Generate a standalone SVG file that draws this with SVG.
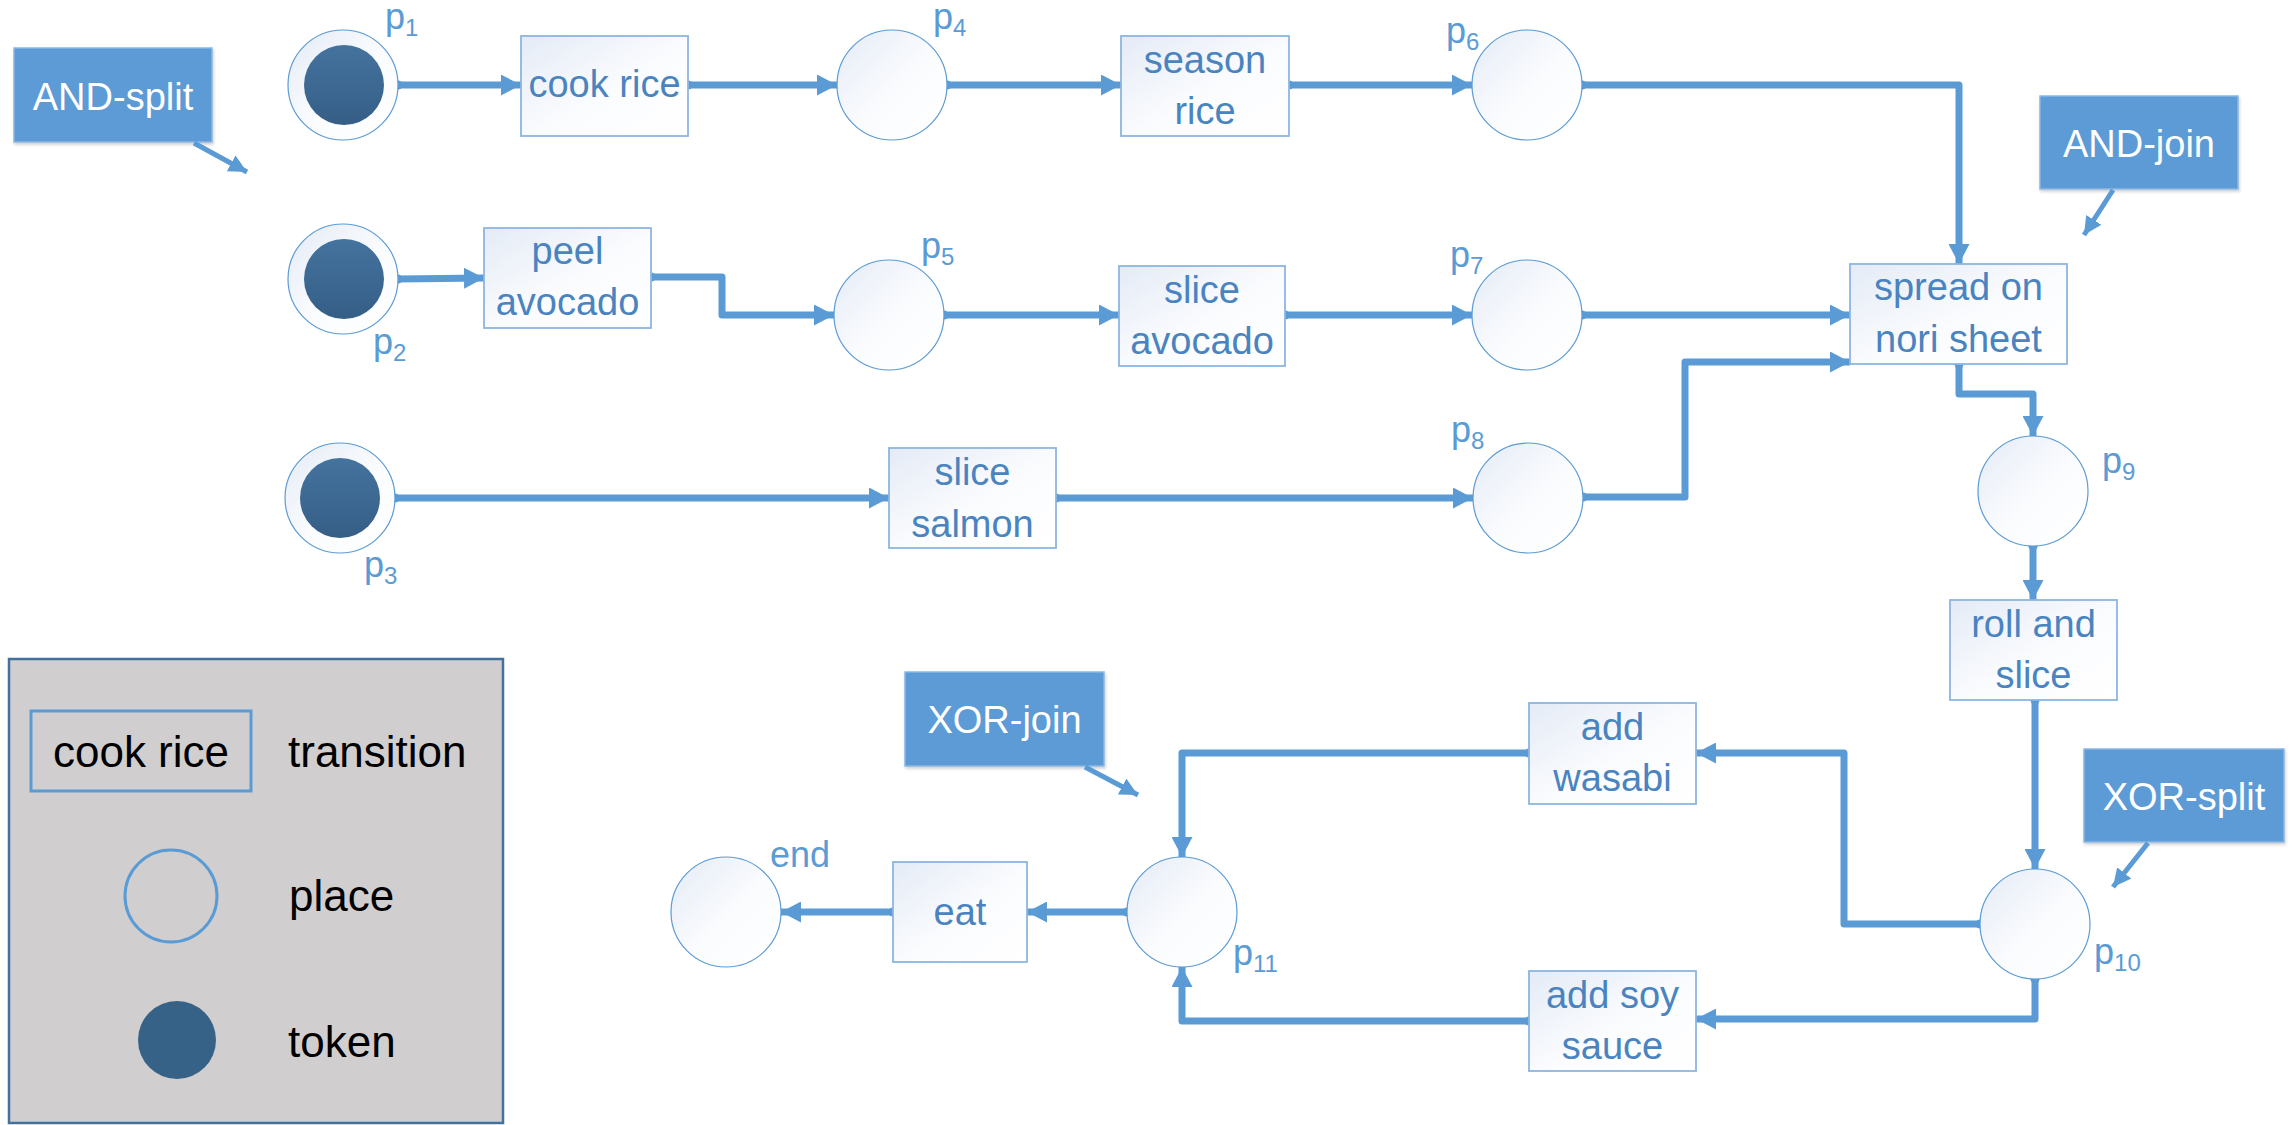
<svg xmlns="http://www.w3.org/2000/svg" width="2292" height="1125" viewBox="0 0 2292 1125">
  <defs>
    <linearGradient id="nodeFill" x1="0" y1="0" x2="1" y2="1">
      <stop offset="0" stop-color="#E4EBF6"/>
      <stop offset="0.55" stop-color="#FBFCFE"/>
      <stop offset="1" stop-color="#FFFFFF"/>
    </linearGradient>
    <linearGradient id="tokenFill" x1="0" y1="0" x2="0" y2="1">
      <stop offset="0" stop-color="#44739E"/>
      <stop offset="1" stop-color="#355E86"/>
    </linearGradient>
    <filter id="soft" x="-20%" y="-20%" width="140%" height="140%">
      <feDropShadow dx="1" dy="2" stdDeviation="1.5" flood-color="#000" flood-opacity="0.18"/>
    </filter>
    <marker id="arrow" markerUnits="userSpaceOnUse" markerWidth="21" markerHeight="21" refX="20" refY="10.5" orient="auto">
      <path d="M0,0 L20,10.5 L0,21 Z" fill="#5B9BD5"/>
    </marker>
    <marker id="dot" markerUnits="userSpaceOnUse" markerWidth="10" markerHeight="10" refX="5" refY="5" orient="auto">
      <circle cx="5" cy="5" r="4.6" fill="#5B9BD5"/>
    </marker>
    <marker id="callArrow" markerUnits="userSpaceOnUse" markerWidth="20" markerHeight="18" refX="18" refY="9" orient="auto">
      <path d="M0,0 L18,9 L0,18 Z" fill="#5B9BD5"/>
    </marker>
    <style>
      .place { fill: url(#nodeFill); stroke: #5B9BD5; stroke-width: 1.2; }
      .trans { fill: url(#nodeFill); stroke: #8DB6E2; stroke-width: 1.8; }
      .token { fill: url(#tokenFill); }
      .lbl { font-family: "Liberation Sans", Arial, sans-serif; font-size: 38px; fill: #4A84C0; text-anchor: middle; }
      .plbl { font-family: "Liberation Sans", Arial, sans-serif; font-size: 36px; fill: #5B9BD5; }
      .sub { font-size: 24px; }
      .arc { fill: none; stroke: #5B9BD5; stroke-width: 7; stroke-linejoin: round; stroke-linecap: butt; marker-start: url(#dot); marker-end: url(#arrow); }
      .callout rect { fill: #5B9BD5; stroke: #8CB7E3; stroke-width: 1.5; filter: url(#soft); }
      .callout text { font-family: "Liberation Sans", Arial, sans-serif; font-size: 38px; fill: #FFFFFF; text-anchor: middle; }
      .callout path { fill: none; stroke: #5B9BD5; stroke-width: 5; marker-end: url(#callArrow); }
      .legend text { font-family: "Liberation Sans", Arial, sans-serif; font-size: 44px; fill: #000000; }
    </style>
  </defs>

  <rect width="2292" height="1125" fill="#FFFFFF"/>

  <!-- legend -->
  <g id="legend" class="legend">
    <rect x="9" y="659" width="494" height="464" fill="#D0CECE" stroke="#41719C" stroke-width="2.5"/>
    <rect x="31" y="711" width="220" height="80" fill="none" stroke="#5B9BD5" stroke-width="3"/>
    <text x="141" y="767" text-anchor="middle">cook rice</text>
    <text x="288" y="767">transition</text>
    <circle cx="171" cy="896" r="46" fill="none" stroke="#5B9BD5" stroke-width="3"/>
    <text x="289" y="911">place</text>
    <circle cx="177" cy="1040" r="39" fill="#376287"/>
    <text x="288" y="1057">token</text>
  </g>

  <!-- arcs -->
  <g id="connectors">
    <path class="arc" d="M398,85 L521,85"/>
    <path class="arc" d="M688,85 L837,85"/>
    <path class="arc" d="M947,85 L1121,85"/>
    <path class="arc" d="M1289,85 L1472,85"/>
    <path class="arc" d="M1582,85 L1959,85 L1959,264"/>
    <path class="arc" d="M398,279 L484,278"/>
    <path class="arc" d="M651,277 L722,277 L722,315 L834,315"/>
    <path class="arc" d="M944,315 L1119,315"/>
    <path class="arc" d="M1285,315 L1472,315"/>
    <path class="arc" d="M1582,315 L1850,315"/>
    <path class="arc" d="M395,498 L889,498"/>
    <path class="arc" d="M1056,498 L1473,498"/>
    <path class="arc" d="M1583,497 L1685,497 L1685,362 L1850,362"/>
    <path class="arc" d="M1959,364 L1959,394 L2033,394 L2033,436"/>
    <path class="arc" d="M2033,546 L2033,600"/>
    <path class="arc" d="M2035,700 L2035,869"/>
    <path class="arc" d="M1980,924 L1844,924 L1844,753 L1696,753"/>
    <path class="arc" d="M2035,979 L2035,1019 L1696,1019"/>
    <path class="arc" d="M1529,753 L1182,753 L1182,857"/>
    <path class="arc" d="M1529,1021 L1182,1021 L1182,967"/>
    <path class="arc" d="M1127,912 L1027,912"/>
    <path class="arc" d="M893,912 L781,912"/>
  </g>

  <!-- places -->
  <g id="p1"><circle class="place" cx="343" cy="85" r="55"/><circle class="token" cx="344" cy="85" r="40"/>
    <text class="plbl" x="385" y="29">p<tspan class="sub" dy="7">1</tspan></text></g>
  <g id="p2"><circle class="place" cx="343" cy="279" r="55"/><circle class="token" cx="344" cy="279" r="40"/>
    <text class="plbl" x="373" y="354">p<tspan class="sub" dy="7">2</tspan></text></g>
  <g id="p3"><circle class="place" cx="340" cy="498" r="55"/><circle class="token" cx="340" cy="498" r="40"/>
    <text class="plbl" x="364" y="577">p<tspan class="sub" dy="7">3</tspan></text></g>
  <g id="p4"><circle class="place" cx="892" cy="85" r="55"/>
    <text class="plbl" x="933" y="29">p<tspan class="sub" dy="7">4</tspan></text></g>
  <g id="p5"><circle class="place" cx="889" cy="315" r="55"/>
    <text class="plbl" x="921" y="258">p<tspan class="sub" dy="7">5</tspan></text></g>
  <g id="p6"><circle class="place" cx="1527" cy="85" r="55"/>
    <text class="plbl" x="1446" y="43">p<tspan class="sub" dy="7">6</tspan></text></g>
  <g id="p7"><circle class="place" cx="1527" cy="315" r="55"/>
    <text class="plbl" x="1450" y="267">p<tspan class="sub" dy="7">7</tspan></text></g>
  <g id="p8"><circle class="place" cx="1528" cy="498" r="55"/>
    <text class="plbl" x="1451" y="442">p<tspan class="sub" dy="7">8</tspan></text></g>
  <g id="p9"><circle class="place" cx="2033" cy="491" r="55"/>
    <text class="plbl" x="2102" y="473">p<tspan class="sub" dy="7">9</tspan></text></g>
  <g id="p10"><circle class="place" cx="2035" cy="924" r="55"/>
    <text class="plbl" x="2094" y="964">p<tspan class="sub" dy="7">10</tspan></text></g>
  <g id="p11"><circle class="place" cx="1182" cy="912" r="55"/>
    <text class="plbl" x="1233" y="965">p<tspan class="sub" dy="7">11</tspan></text></g>
  <g id="end"><circle class="place" cx="726" cy="912" r="55"/>
    <text class="plbl" x="770" y="867" font-size="38">end</text></g>

  <!-- transitions -->
  <g id="t-cook-rice"><rect class="trans" x="521" y="36" width="167" height="100"/>
    <text class="lbl" x="604.5" y="97">cook rice</text></g>
  <g id="t-season-rice"><rect class="trans" x="1121" y="36" width="168" height="100"/>
    <text class="lbl" x="1205" y="73">season</text><text class="lbl" x="1205" y="124">rice</text></g>
  <g id="t-peel-avocado"><rect class="trans" x="484" y="228" width="167" height="100"/>
    <text class="lbl" x="567.5" y="264">peel</text><text class="lbl" x="567.5" y="315">avocado</text></g>
  <g id="t-slice-avocado"><rect class="trans" x="1119" y="266" width="166" height="100"/>
    <text class="lbl" x="1202" y="303">slice</text><text class="lbl" x="1202" y="354">avocado</text></g>
  <g id="t-slice-salmon"><rect class="trans" x="889" y="448" width="167" height="100"/>
    <text class="lbl" x="972.5" y="485">slice</text><text class="lbl" x="972.5" y="537">salmon</text></g>
  <g id="t-spread"><rect class="trans" x="1850" y="264" width="217" height="100"/>
    <text class="lbl" x="1958.5" y="300">spread on</text><text class="lbl" x="1958.5" y="352">nori sheet</text></g>
  <g id="t-roll"><rect class="trans" x="1950" y="600" width="167" height="100"/>
    <text class="lbl" x="2033.5" y="637">roll and</text><text class="lbl" x="2033.5" y="688">slice</text></g>
  <g id="t-wasabi"><rect class="trans" x="1529" y="703" width="167" height="101"/>
    <text class="lbl" x="1612.5" y="740">add</text><text class="lbl" x="1612.5" y="791">wasabi</text></g>
  <g id="t-soy"><rect class="trans" x="1529" y="971" width="167" height="100"/>
    <text class="lbl" x="1612.5" y="1008">add soy</text><text class="lbl" x="1612.5" y="1059">sauce</text></g>
  <g id="t-eat"><rect class="trans" x="893" y="862" width="134" height="100"/>
    <text class="lbl" x="960" y="925">eat</text></g>

  <!-- callouts -->
  <g id="and-split" class="callout"><rect x="14" y="48" width="198" height="94"/>
    <text x="113" y="110">AND-split</text><path d="M194,143 L247,172"/></g>
  <g id="and-join" class="callout"><rect x="2040" y="96" width="198" height="93"/>
    <text x="2139" y="157">AND-join</text><path d="M2113,190 L2084,235"/></g>
  <g id="xor-join" class="callout"><rect x="905" y="672" width="199" height="94"/>
    <text x="1004.5" y="733">XOR-join</text><path d="M1085,767 L1138,795"/></g>
  <g id="xor-split" class="callout"><rect x="2084" y="749" width="200" height="93"/>
    <text x="2184" y="810">XOR-split</text><path d="M2148,843 L2113,887"/></g>
</svg>
